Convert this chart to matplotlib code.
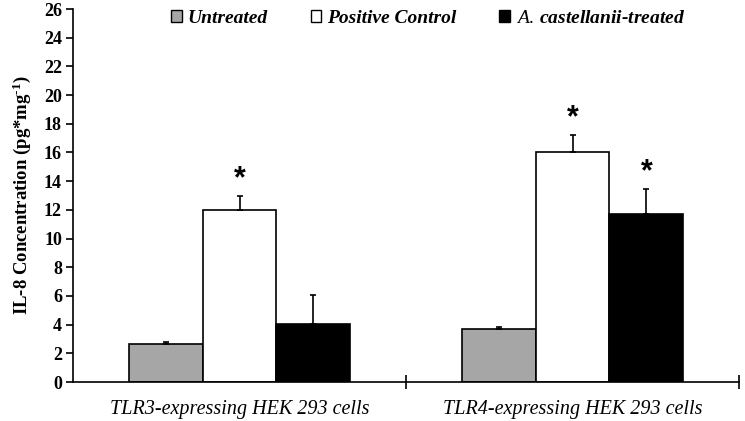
import matplotlib.pyplot as plt
import numpy as np
from matplotlib.patches import Patch

groups = ["TLR3-expressing HEK 293 cells", "TLR4-expressing HEK 293 cells"]
series = ["Untreated", "Positive Control", "A. castellanii-treated"]
means = {
    "Untreated": [2.65, 3.68],
    "Positive Control": [12.0, 16.05],
    "A. castellanii-treated": [4.05, 11.7],
}
errors = {
    "Untreated": [0.12, 0.15],
    "Positive Control": [1.0, 1.2],
    "A. castellanii-treated": [2.05, 1.75],
}
significant = {
    "Untreated": [False, False],
    "Positive Control": [True, True],
    "A. castellanii-treated": [False, True],
}
colors = ["#a6a6a6", "#ffffff", "#000000"]

plt.rcParams["font.family"] = ["Liberation Serif", "DejaVu Serif"]
plt.rcParams["mathtext.fontset"] = "custom"
plt.rcParams["mathtext.rm"] = "Liberation Serif"
plt.rcParams["mathtext.it"] = "Liberation Serif:italic"
plt.rcParams["mathtext.bf"] = "Liberation Serif:bold"

fig = plt.figure(figsize=(7.45, 4.21), dpi=100)
ax = fig.add_axes([0.098, 0.0926, 0.894, 0.886])

width = 0.222
centers = np.arange(len(groups)) + 0.5
for i, name in enumerate(series):
    x = centers + (i - 1) * width
    ax.bar(x, means[name], width=width, color=colors[i], edgecolor="black",
           linewidth=1.2, zorder=2)
    ax.errorbar(x, means[name], yerr=[np.zeros(len(x)), errors[name]],
                fmt="none", ecolor="black", elinewidth=1.2, capsize=2,
                capthick=1.2, zorder=3)
    for xi, m, e, s in zip(x, means[name], errors[name], significant[name]):
        if s:
            ax.text(xi, m + e + 0.1, "*", ha="center", va="bottom",
                    fontsize=22, fontweight="bold",
                    family="Liberation Sans")

ax.set_xlim(0, 2)
ax.set_ylim(0, 26)
ax.set_yticks(np.arange(0, 27, 2))
ax.tick_params(axis="y", direction="out", length=5, width=1.2,
               labelsize=13, pad=3)
for lab in ax.get_yticklabels():
    lab.set_fontweight("bold")

ax.set_xticks(centers)
ax.set_xticklabels(groups, fontstyle="italic", fontsize=14.5)
ax.tick_params(axis="x", length=0, pad=13)
ax.set_xticks([1, 2], minor=True)
ax.tick_params(axis="x", which="minor", direction="inout", length=10,
               width=1.2)

ax.spines["top"].set_visible(False)
ax.spines["right"].set_visible(False)
ax.spines["left"].set_linewidth(1.2)
ax.spines["bottom"].set_linewidth(1.2)

ax.set_ylabel(r"IL-8 Concentration (pg*mg$^{\mathbf{\text{-}1}}$)",
              fontsize=13.5, fontweight="bold", labelpad=8)

handles = [Patch(facecolor=c, edgecolor="black", linewidth=1.0)
           for c in colors]
labels = series[:2] + [r"$\mathit{A.}\,$castellanii-treated"]
leg = ax.legend(handles, labels, ncol=3, loc="upper center",
                bbox_to_anchor=(0.533, 1.045), frameon=False,
                handlelength=0.55, handleheight=0.55, handletextpad=0.3,
                columnspacing=2.2,
                prop={"style": "italic", "weight": "bold", "size": 14})

fig.savefig("out.png", dpi=100)
